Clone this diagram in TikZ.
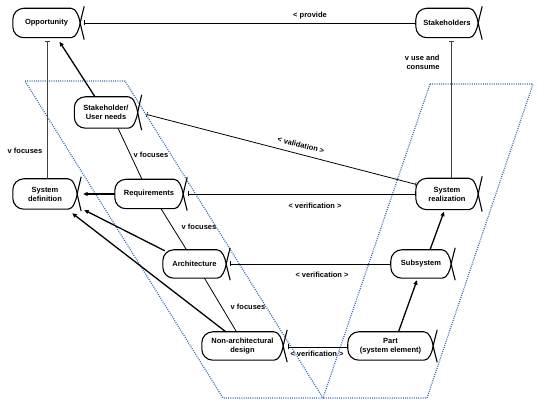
\documentclass[tikz,border=0pt]{standalone}
\usepackage{fontspec}
\setmainfont{Liberation Sans}
\usetikzlibrary{calc,arrows.meta}
\definecolor{zoneblue}{RGB}{60,110,175}
\newcommand\objshape[6]{%
 \node[objtext, minimum width={2*#4pt}, minimum height={2*#5pt}] (#1) at (#2,#3) {#6};
 \draw[objline, fill=white, rounded corners=11pt] ($(#1.north east)+(-9,0)$) -- (#1.north west) -- (#1.south west) -- ($(#1.south east)+(-9,0)$);
 \node[objtext, minimum width={2*#4pt}, minimum height={2*#5pt}] at (#2,#3) {#6};
 \draw[objline] ($(#1.north east)+(-9,0)$) .. controls ($(#1.north east)+(-4,0)$) and ($(#1.east)+(-1,-6)$) .. (#1.east) .. controls ($(#1.east)+(1,5)$) and ($(#1.south east)+(3,-2)$) .. ($(#1.south east)+(4,2)$);
 \draw[objline] ($(#1.south east)+(-9,0)$) .. controls ($(#1.south east)+(-4,0)$) and ($(#1.east)+(-1,6)$) .. (#1.east) .. controls ($(#1.east)+(1,-5)$) and ($(#1.north east)+(3,2)$) .. ($(#1.north east)+(4,-2)$);
}
\begin{document}
\begin{tikzpicture}[x=1pt,y=-1pt,
 objtext/.style={draw=none, inner sep=0pt, align=center, font=\fontsize{7.5}{9}\selectfont\bfseries},
 objline/.style={line width=1.1pt, black},
 lbl/.style={font=\fontsize{7.5}{9}\selectfont\bfseries, inner sep=1pt, align=center},
 assoc/.style={line width=0.8pt, {Bar[width=5pt,line width=0.5pt]}-{Bar[width=5pt,line width=0.5pt]}},
 tickstart/.style={line width=0.7pt, black!75, {Bar[width=5pt,line width=0.5pt]}-},
 focus/.style={line width=0.8pt},
 agg/.style={line width=1.3pt, -{Triangle[length=4.5pt,width=4pt]}},
 zone/.style={draw=zoneblue, line width=1.2pt, dash pattern=on 1pt off 1.2pt}]
\useasboundingbox (0,0) rectangle (558,417);
% zones
\draw[zone] (25,81) -- (125,81) -- (323,398) -- (223,398) -- cycle;
\draw[zone] (430,84) -- (533,84) -- (427,398) -- (323,398) -- cycle;
% objects
\objshape{opp}{46.5}{23}{33.5}{14.5}{Opportunity}
\objshape{stk}{447}{23}{31}{14.5}{Stakeholders}
\objshape{sun}{106}{112.5}{31.5}{15.5}{Stakeholder/\\User needs}
\objshape{sd}{45}{194}{32}{15}{System\\definition}
\objshape{req}{149}{194}{34}{14.5}{Requirements}
\objshape{arch}{194.5}{264}{31.5}{14}{Architecture}
\objshape{nad}{242.5}{346}{40.5}{14}{Non-architectural\\design}
\objshape{sr}{447}{194}{31}{15.5}{System\\realization}
\objshape{sub}{421}{264}{30}{14}{Subsystem}
\objshape{part}{390.5}{346}{42.5}{14}{Part\\(system element)}
% connectors
\draw[assoc] ($(opp.east)+(4,0)$) -- (stk.west);
\node[lbl] (lprov) at (310,16) {< provide};
\draw[tickstart] ($(opp.south)+(0.5,3)$) -- ($(sd.north)+(2,0)$);
\node[lbl] (lfoc1) at (25,151) {v focuses};
\draw[tickstart] ($(stk.south)+(4,3)$) -- ($(sr.north)+(4,0)$);
\node[lbl, align=right] (luse) at (421,62) {v use and\\\hspace*{4pt}consume};
\draw[agg] ($(sun.north)+(-11,0)$) -- ($(opp.south)+(13,4)$);
\draw[focus] ($(sun.south)+(12,0)$) -- ($(req.north)+(-7,0)$);
\node[lbl] (lfoc2) at (151,155) {v focuses};
\draw[assoc] ($(sun.east)+(9,2)$) -- ($(sr.north west)+(0,6)$);
\node[lbl, rotate=-15] (lval) at (301,145) {< validation >};
\draw[assoc] ($(req.east)+(5,0)$) -- (sr.west);
\node[lbl] (lver1) at (315,206) {< verification >};
\draw[agg] (req.west) -- ($(sd.east)+(6,0)$);
\draw[focus] ($(req.south)+(12,0)$) -- ($(arch.north)+(-8,0)$);
\node[lbl] (lfoc3) at (199,227) {v focuses};
\draw[agg] ($(arch.north west)+(2,1)$) -- ($(sd.east)+(7,16)$);
\draw[agg] ($(nad.north west)+(24,0)$) -- ($(sd.south east)+(-5,4)$);
\draw[focus] ($(arch.south)+(10,0)$) -- ($(nad.north)+(-6,0)$);
\node[lbl] (lfoc4) at (248,307) {v focuses};
\draw[assoc] ($(arch.east)+(4,0)$) -- (sub.west);
\node[lbl] (lver2) at (322,275) {< verification >};
\draw[assoc] ($(nad.east)+(5,1)$) -- ($(part.west)+(0,1)$);
\node[lbl] (lver3) at (317,354) {< verification >};
\draw[agg] ($(part.north)+(8,0)$) -- ($(sub.south)+(-4,2)$);
\draw[agg] ($(sub.north)+(9,0)$) -- ($(sr.south)+(-3,2)$);
\end{tikzpicture}
\end{document}
